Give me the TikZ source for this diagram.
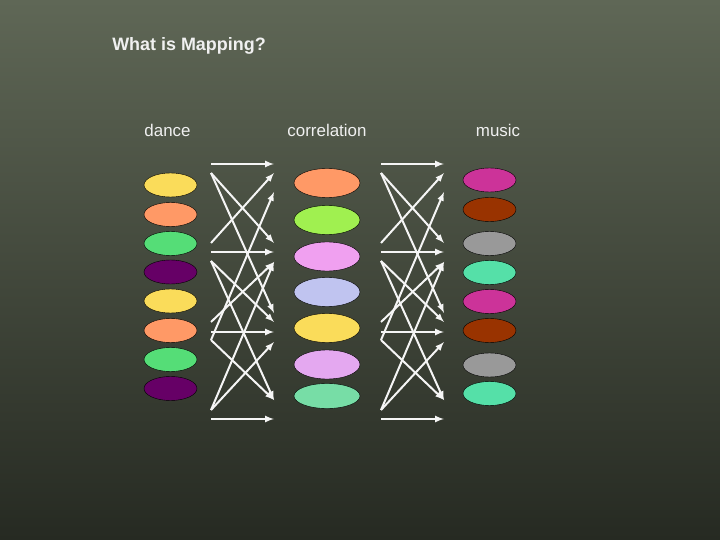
\documentclass[tikz,border=0pt]{standalone}
\usepackage{fontspec}
\setmainfont{Liberation Sans}
\usetikzlibrary{shapes.geometric}

\definecolor{bgtop}{HTML}{5F6756}
\definecolor{bgbot}{HTML}{262A22}
\definecolor{yl}{HTML}{FADC5A}
\definecolor{sa}{HTML}{FF9966}
\definecolor{gr}{HTML}{55DD77}
\definecolor{pu}{HTML}{660066}
\definecolor{lg}{HTML}{A0F050}
\definecolor{pk}{HTML}{F0A0F0}
\definecolor{lv}{HTML}{C0C4F0}
\definecolor{li}{HTML}{E4A8F0}
\definecolor{mi}{HTML}{77DDA6}
\definecolor{mg}{HTML}{CC3399}
\definecolor{ru}{HTML}{993300}
\definecolor{gy}{HTML}{999999}
\definecolor{aq}{HTML}{55E0A8}

\begin{document}
\begin{tikzpicture}[x=1bp,y=-1bp,
        blob/.style={ellipse,draw=black,thin,inner sep=0pt,minimum width=53bp,minimum height=24bp},
        corr/.style={blob,minimum width=66bp,minimum height=29bp},
        head/.style={text=white!94!black,font=\fontsize{17}{20}\selectfont},
        title/.style={text=white!94!black,font=\bfseries\fontsize{18}{22}\selectfont},
        arr/.style={white!96!black,line width=2bp,-latex}
        ]
        \useasboundingbox (0,0) rectangle (720,540);
        \shade[top color=bgtop,bottom color=bgbot] (0,0) rectangle (720,540);
        \node (ttl) [title] at (189,46) {What is Mapping?};
        \node (dance) [head] at (167.5,130) {dance};
        \node (corr)  [head] at (327,130)   {correlation};
        \node (music) [head] at (498,130)   {music};
        % the three columns
        \foreach \y/\c [count=\i] in {185/yl,214.5/sa,243.5/gr,272/pu,301/yl,330.5/sa,359.5/gr,388.5/pu}
            \node (d\i) [blob,fill=\c] at (170.5,\y) {};
        \foreach \y/\c [count=\i] in {183/sa,220/lg,256.5/pk,292/lv,328/yl,364.5/li}
            \node (c\i) [corr,fill=\c] at (327,\y) {};
        \node (c7) [corr,fill=mi,minimum height=25bp] at (327,396) {};
        \foreach \y/\c [count=\i] in {180/mg,209.5/ru,243.5/gy,272.5/aq,301.5/mg,330.5/ru,365/gy,393.5/aq}
            \node (m\i) [blob,fill=\c] at (489.5,\y) {};
        % arrow ends
        \foreach \x/\s in {211/a,381/b} {
            \foreach \y [count=\i] in {164,173,243,252,261,322,332,340,410,419}
                \coordinate (\s l\i) at (\x,\y);
            \foreach \y [count=\i] in {164,173,192,243,252,262,313,322,332,342,400,419}
                \coordinate (\s r\i) at (\x+63,\y);
        }
        \foreach \s in {a,b}
            \foreach \p/\q in {1/1,2/4,2/7,3/2,4/5,5/8,5/11,6/6,7/9,8/3,8/11,9/6,9/10,10/12}
                \draw[arr] (\s l\p) -- (\s r\q);
    \end{tikzpicture}
\end{document}
